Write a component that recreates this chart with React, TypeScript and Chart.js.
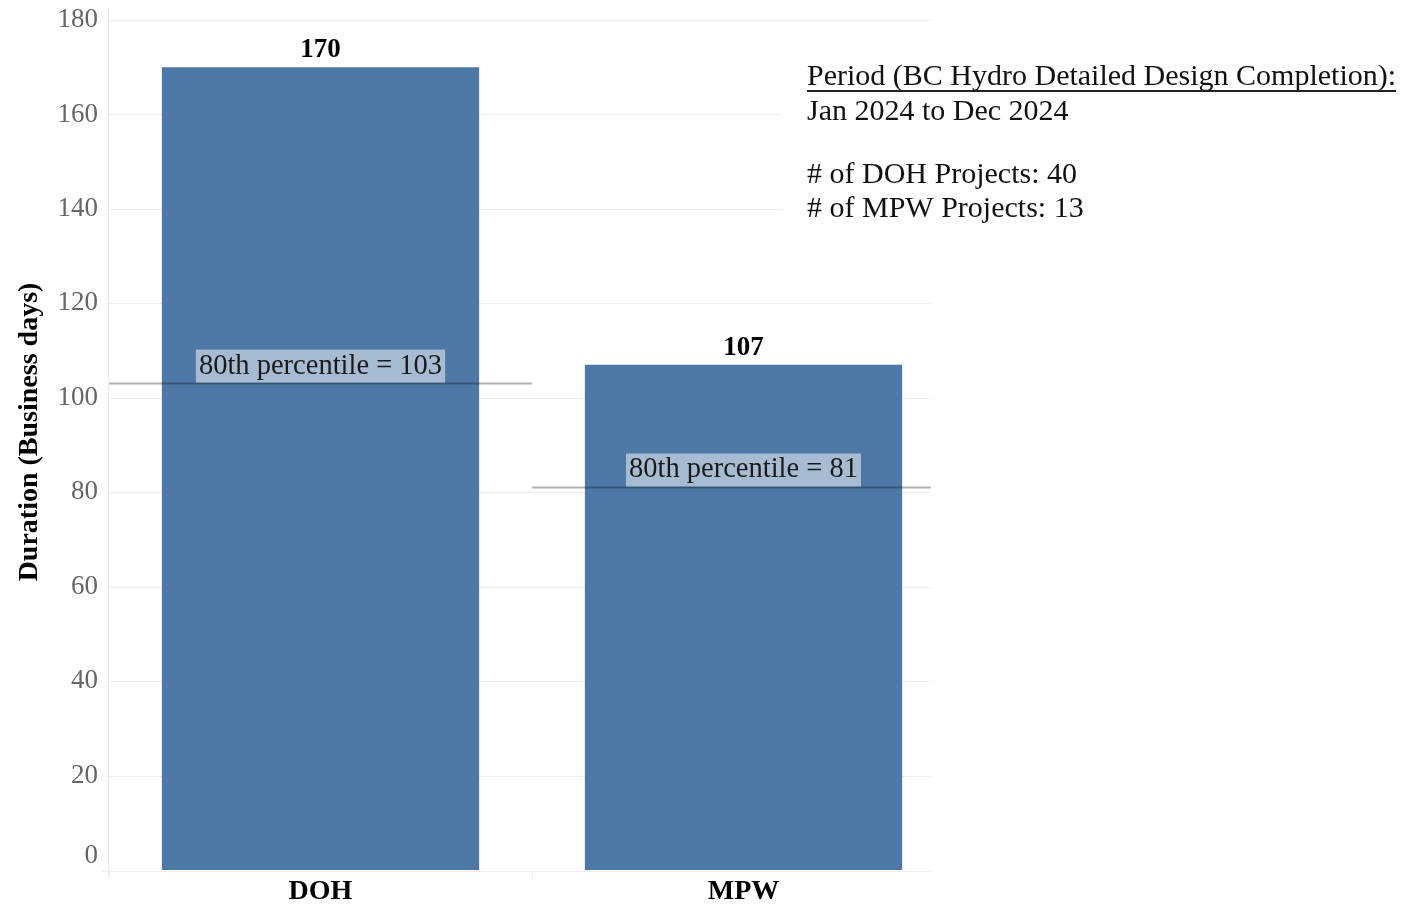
import React, { useEffect, useRef } from "react";
import { Chart, registerables } from "chart.js";

Chart.register(...registerables);

const categories = ["DOH", "MPW"];
const durations = [170, 107];
const percentile80 = [103, 81];
const yTickValues = [0, 20, 40, 60, 80, 100, 120, 140, 160, 180];
const yAxisTitle = "Duration (Business days)";
const infoHeader = "Period (BC Hydro Detailed Design Completion):";
const infoLines = ["Jan 2024 to Dec 2024", "# of DOH Projects: 40", "# of MPW Projects: 13"];

const SERIF = '"Liberation Serif", "Times New Roman", serif';
const BAR_COLOR = "#4e79a7";
const GRID_COLOR = "#eeeeee";
const TICK_COLOR = "#666666";
const RIGHT_FRAC = 0.443;
const INFO_X = 799;
const INFO_HEADER_Y = 69;
const INFO_LINE_Y = [104, 167, 201];

const framePlugin = {
  id: "tableauFrame",
  beforeDatasetsDraw(chart: any) {
    const { ctx, chartArea, scales } = chart;
    const x = scales.x;
    const y = scales.y;
    const catW = x.getPixelForValue(1) - x.getPixelForValue(0);
    const plotRight = x.getPixelForValue(categories.length - 1) + catW * RIGHT_FRAC;
    const base = y.getPixelForValue(0);
    ctx.save();
    ctx.lineWidth = 1;
    ctx.strokeStyle = GRID_COLOR;
    yTickValues.forEach((v) => {
      if (v === 0) return;
      const py = Math.round(y.getPixelForValue(v)) + 0.5;
      ctx.beginPath();
      ctx.moveTo(chartArea.left, py);
      ctx.lineTo(plotRight, py);
      ctx.stroke();
    });
    ctx.beginPath();
    ctx.moveTo(chartArea.left - 0.5, 0);
    ctx.lineTo(chartArea.left - 0.5, base + 8);
    ctx.stroke();
    ctx.fillStyle = "#ffffff";
    ctx.fillRect(774, 50, 200, 210);
    ctx.beginPath();
    ctx.moveTo(chartArea.left - 7, base + 1.5);
    ctx.lineTo(plotRight, base + 1.5);
    ctx.stroke();
    for (let i = 0; i < categories.length; i++) {
      const bx = Math.round(x.getPixelForValue(i) - catW / 2) + 0.5;
      ctx.beginPath();
      ctx.moveTo(bx, base + 1);
      ctx.lineTo(bx, base + 9);
      ctx.stroke();
    }
    // zero tick label, nudged up inside the axis like the original
    ctx.font = `27px ${SERIF}`;
    ctx.fillStyle = TICK_COLOR;
    ctx.textAlign = "right";
    ctx.textBaseline = "middle";
    ctx.fillText("0", chartArea.left - 11, base - 14);
    // y axis title
    ctx.save();
    ctx.translate(22, (chartArea.top + chartArea.bottom) / 2 - 13);
    ctx.rotate(-Math.PI / 2);
    ctx.font = `bold 28px ${SERIF}`;
    ctx.fillStyle = "#000000";
    ctx.textAlign = "center";
    ctx.textBaseline = "middle";
    ctx.fillText(yAxisTitle, 0, 0);
    ctx.restore();
    ctx.restore();
  },
  afterDatasetsDraw(chart: any) {
    const { ctx, scales } = chart;
    const x = scales.x;
    const y = scales.y;
    const catW = x.getPixelForValue(1) - x.getPixelForValue(0);
    ctx.save();
    percentile80.forEach((p, i) => {
      const cx = x.getPixelForValue(i);
      const x0 = cx - catW / 2;
      const x1 = i === categories.length - 1 ? cx + catW * RIGHT_FRAC : cx + catW / 2;
      const py = y.getPixelForValue(p);
      ctx.strokeStyle = "rgba(0,0,0,0.3)";
      ctx.lineWidth = 2;
      ctx.beginPath();
      ctx.moveTo(x0, py);
      ctx.lineTo(x1, py);
      ctx.stroke();
      const label = `80th percentile = ${p}`;
      ctx.font = `28.5px ${SERIF}`;
      const w = ctx.measureText(label).width + 6;
      const h = 33;
      ctx.fillStyle = "rgba(255,255,255,0.5)";
      ctx.fillRect(cx - w / 2, py - h - 1, w, h);
      ctx.fillStyle = "#1a1a1a";
      ctx.textAlign = "center";
      ctx.textBaseline = "middle";
      ctx.fillText(label, cx, py - h / 2 - 1);
    });
    durations.forEach((v, i) => {
      const cx = x.getPixelForValue(i);
      const py = y.getPixelForValue(v);
      ctx.font = `bold 27px ${SERIF}`;
      ctx.fillStyle = "#000000";
      ctx.textAlign = "center";
      ctx.textBaseline = "middle";
      ctx.fillText(String(v), cx, py - 17);
    });
    ctx.font = `30px ${SERIF}`;
    ctx.fillStyle = "#111111";
    ctx.textAlign = "left";
    ctx.textBaseline = "middle";
    ctx.fillText(infoHeader, INFO_X, INFO_HEADER_Y);
    const hw = ctx.measureText(infoHeader).width;
    ctx.strokeStyle = "#222222";
    ctx.lineWidth = 2;
    ctx.beginPath();
    ctx.moveTo(INFO_X, INFO_HEADER_Y + 14);
    ctx.lineTo(INFO_X + hw, INFO_HEADER_Y + 14);
    ctx.stroke();
    infoLines.forEach((line, i) => {
      ctx.fillText(line, INFO_X, INFO_LINE_Y[i]);
    });
    ctx.restore();
  },
};

export default function App() {
  const ref = useRef<HTMLCanvasElement | null>(null);
  useEffect(() => {
    if (!ref.current) return;
    const chart = new Chart(ref.current, {
      type: "bar",
      data: {
        labels: categories,
        datasets: [
          {
            data: durations,
            backgroundColor: BAR_COLOR,
            borderWidth: 0,
            barPercentage: 0.75,
            categoryPercentage: 1.0,
          },
        ],
      },
      options: {
        animation: false,
        responsive: false,
        maintainAspectRatio: false,
        layout: { padding: { left: 0, top: 12, right: 447, bottom: 0 } },
        plugins: { legend: { display: false }, tooltip: { enabled: false } },
        scales: {
          x: {
            grid: { display: false, drawTicks: false },
            border: { display: false },
            ticks: {
              color: "#000000",
              font: { family: SERIF, size: 28, weight: "bold" },
              padding: 5,
            },
            afterFit: (s: any) => {
              s.height = 31;
              s.paddingLeft = 0;
              s.paddingRight = 0;
            },
          },
          y: {
            min: 0,
            max: 180,
            afterBuildTicks: (s: any) => {
              s.ticks = yTickValues.map((v) => ({ value: v }));
            },
            grid: { display: false, drawTicks: false },
            border: { display: false },
            ticks: {
              color: TICK_COLOR,
              font: { family: SERIF, size: 27 },
              padding: 11,
              callback: (v: any) => (Number(v) === 0 ? "" : String(v)),
            },
            title: { display: false },
            afterFit: (s: any) => {
              s.width = 101;
              s.paddingTop = 0;
              s.paddingBottom = 0;
            },
          },
        },
      },
      plugins: [framePlugin],
    });
    return () => chart.destroy();
  }, []);
  return (
    <div style={{ width: 1394, height: 893 }}>
      <canvas ref={ref} width={1394} height={893} style={{ display: "block" }} />
    </div>
  );
}
